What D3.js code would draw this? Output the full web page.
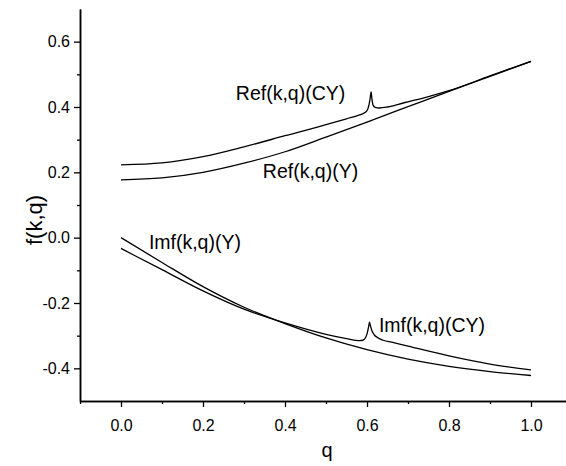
<!DOCTYPE html>
<html>
<head>
<meta charset="utf-8">
<script src="https://cdn.jsdelivr.net/npm/d3@7"></script>
<style>
  body { margin: 0; background: #fff; }
  text { font-family: "Liberation Sans", Arial, sans-serif; fill: #000; }
</style>
</head>
<body>
<div id="chart"></div>
<script>
// values
let qRefCY = [0, 0.1, 0.2, 0.3, 0.4, 0.5, 0.55, 0.58, 0.595, 0.602, 0.607, 0.61, 0.612, 0.615, 0.62, 0.63, 0.65, 0.69, 0.75, 0.8, 0.9, 1.0];
let refCY = [0.223, 0.229, 0.248, 0.278, 0.312, 0.346, 0.364, 0.375, 0.383, 0.394, 0.42, 0.446, 0.425, 0.405, 0.399, 0.397, 0.400, 0.413, 0.432, 0.45, 0.495, 0.54];

let qRefY = [0, 0.1, 0.2, 0.3, 0.4, 0.5, 0.6, 0.7, 0.8, 0.9, 1.0];
let refY = [0.177, 0.183, 0.2, 0.228, 0.263, 0.308, 0.354, 0.401, 0.448, 0.494, 0.54];

let qImfY = [0, 0.1, 0.2, 0.3, 0.4, 0.5, 0.6, 0.7, 0.8, 0.9, 1.0];
let imfY = [0.0, -0.076, -0.15, -0.213, -0.263, -0.307, -0.343, -0.372, -0.394, -0.41, -0.422];

let qImfCY = [0, 0.1, 0.2, 0.3, 0.4, 0.5, 0.55, 0.58, 0.59, 0.597, 0.601, 0.604, 0.606, 0.608, 0.612, 0.618, 0.626, 0.64, 0.66, 0.7, 0.8, 0.9, 1.0];
let imfCY = [-0.033, -0.098, -0.163, -0.219, -0.261, -0.296, -0.309, -0.315, -0.314, -0.305, -0.29, -0.272, -0.259, -0.268, -0.285, -0.298, -0.306, -0.314, -0.32, -0.332, -0.362, -0.387, -0.405];

let xMajor = [0.0, 0.2, 0.4, 0.6, 0.8, 1.0];
let xMinor = [-0.1, 0.1, 0.3, 0.5, 0.7, 0.9];
let yMajor = [-0.4, -0.2, 0.0, 0.2, 0.4, 0.6];
let yMinor = [-0.3, -0.1, 0.1, 0.3, 0.5];

let labelNames = ["Ref(k,q)(CY)", "Ref(k,q)(Y)", "Imf(k,q)(Y)", "Imf(k,q)(CY)"];
let labelQ = [0.28, 0.346, 0.068, 0.629];
let labelF = [0.42, 0.183, -0.035, -0.289];

let width = 566;
let height = 466;

let svg = d3.select('#chart')
    .append('svg')
    .attr('width', width)
    .attr('height', height);

let x = d3.scaleLinear().domain([-0.1, 1.1]).range([80, 572]);
let y = d3.scaleLinear().domain([-0.5, 0.7]).range([401, 9]);

// plain hyphen for negatives, like the original plot
let fmt = d => d3.format('.1f')(d).replace('\u2212', '-');

let line = d3.line()
    .x(d => x(d[0]))
    .y(d => y(d[1]))
    .curve(d3.curveMonotoneX);

[[qRefCY, refCY], [qRefY, refY], [qImfY, imfY], [qImfCY, imfCY]].forEach(function (s) {
    svg.append('path')
        .attr('d', line(d3.zip(s[0], s[1])))
        .style('fill', 'none')
        .style('stroke', '#000')
        .style('stroke-width', '1.3');
});

// minor ticks first, then the major axis on top
svg.append('g')
    .attr('transform', 'translate(0,401)')
    .call(d3.axisBottom(x).tickValues(xMinor).tickSize(3).tickSizeOuter(0).tickFormat(''));
svg.append('g')
    .attr('transform', 'translate(0,401)')
    .call(d3.axisBottom(x).tickValues(xMajor).tickSize(6).tickSizeOuter(0)
        .tickPadding(13).tickFormat(fmt));

svg.append('g')
    .attr('transform', 'translate(80,0)')
    .call(d3.axisLeft(y).tickValues(yMinor).tickSize(3).tickSizeOuter(0).tickFormat(''));
svg.append('g')
    .attr('transform', 'translate(80,0)')
    .call(d3.axisLeft(y).tickValues(yMajor).tickSize(6).tickSizeOuter(0)
        .tickPadding(4).tickFormat(fmt));

svg.selectAll('.domain').style('stroke-width', '1.5');
svg.selectAll('.tick line').style('stroke-width', '1.3');
svg.selectAll('.tick text')
    .style('font-size', '16px')
    .style('font-family', '"Liberation Sans", Arial, sans-serif');

svg.append('text')
    .attr('x', 327)
    .attr('y', 457)
    .attr('text-anchor', 'middle')
    .style('font-size', '20px')
    .text('q');

svg.append('text')
    .attr('transform', 'translate(42,220) rotate(-90)')
    .attr('text-anchor', 'middle')
    .style('font-size', '22px')
    .text('f(k,q)');

labelNames.forEach(function (t, i) {
    svg.append('text')
        .attr('x', x(labelQ[i]))
        .attr('y', y(labelF[i]))
        .style('font-size', '19.5px')
        .text(t);
});
</script>
</body>
</html>
